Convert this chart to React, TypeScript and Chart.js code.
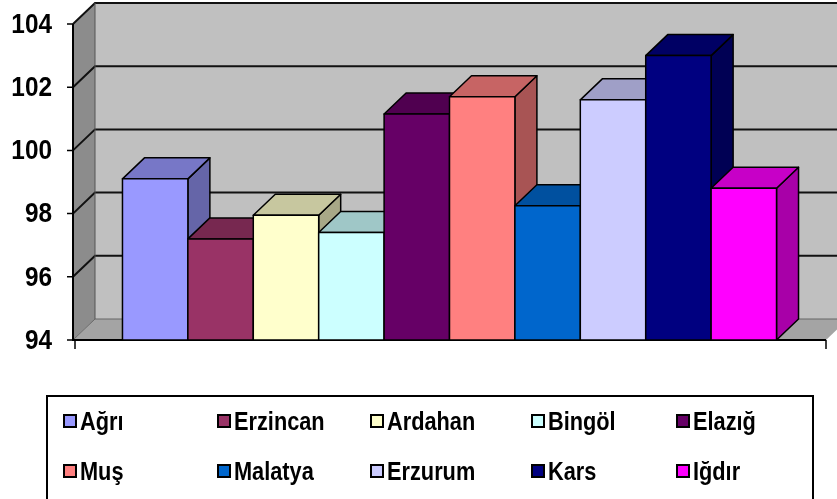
import React, { useEffect, useRef } from "react";
import { Chart, registerables } from "chart.js";

Chart.register(...registerables);

const categories = [""];
const seriesNames = ["Ağrı", "Erzincan", "Ardahan", "Bingöl", "Elazığ", "Muş", "Malatya", "Erzurum", "Kars", "Iğdır"];
const seriesValues = [99.1, 97.2, 97.95, 97.4, 101.15, 101.7, 98.25, 101.6, 103.0, 98.8];
const seriesColors = ["#9999FF", "#993366", "#FFFFCC", "#CCFFFF", "#660066", "#FF8080", "#0066CC", "#CCCCFF", "#000080", "#FF00FF"];
const yTicks = [94, 96, 98, 100, 102, 104];

const DX = 22;
const DY = 21;
const SQ = 0.87;
const FONT = "Liberation Sans, Arial, sans-serif";

function shade(hex: string, f: number) {
  const n = parseInt(hex.slice(1), 16);
  const r = Math.round(((n >> 16) & 255) * f);
  const g = Math.round(((n >> 8) & 255) * f);
  const b = Math.round((n & 255) * f);
  return `rgb(${r},${g},${b})`;
}

function squishText(ctx: CanvasRenderingContext2D, t: string, x: number, y: number, align: CanvasTextAlign) {
  ctx.save();
  ctx.translate(x, y);
  ctx.scale(SQ, 1);
  ctx.textAlign = align;
  ctx.fillText(t, 0, 0);
  ctx.restore();
}

const walls = {
  id: "walls3d",
  beforeDatasetsDraw(chart: any) {
    const ctx: CanvasRenderingContext2D = chart.ctx;
    const { left, right, top, bottom } = chart.chartArea;
    const y = chart.scales.y;
    ctx.save();
    ctx.fillStyle = "#c0c0c0";
    ctx.fillRect(left + DX, top - DY, right - left + 10, bottom - top);
    ctx.fillStyle = "#8c8c8c";
    ctx.beginPath();
    ctx.moveTo(left, top);
    ctx.lineTo(left + DX, top - DY);
    ctx.lineTo(left + DX, bottom - DY);
    ctx.lineTo(left, bottom);
    ctx.closePath();
    ctx.fill();
    ctx.fillStyle = "#a4a4a4";
    ctx.beginPath();
    ctx.moveTo(left, bottom);
    ctx.lineTo(left + DX, bottom - DY);
    ctx.lineTo(right + DX, bottom - DY);
    ctx.lineTo(right, bottom);
    ctx.closePath();
    ctx.fill();
    for (const v of yTicks) {
      const py = y.getPixelForValue(v);
      ctx.beginPath();
      if (v === 94) {
        ctx.strokeStyle = "#666";
        ctx.lineWidth = 1;
      } else {
        ctx.strokeStyle = "#111";
        ctx.lineWidth = 2;
      }
      ctx.moveTo(left, py);
      ctx.lineTo(left + DX, py - DY);
      ctx.lineTo(right + DX + 10, py - DY);
      ctx.stroke();
    }
    ctx.strokeStyle = "#555";
    ctx.lineWidth = 1;
    ctx.beginPath();
    ctx.moveTo(left + DX, top - DY);
    ctx.lineTo(left + DX, bottom - DY);
    ctx.stroke();
    ctx.strokeStyle = "#000";
    ctx.lineWidth = 2;
    ctx.beginPath();
    ctx.moveTo(left, top);
    ctx.lineTo(left, bottom);
    ctx.lineTo(right, bottom);
    ctx.stroke();
    ctx.lineWidth = 1.5;
    ctx.beginPath();
    for (const v of yTicks) {
      const py = y.getPixelForValue(v);
      ctx.moveTo(left - 6, py);
      ctx.lineTo(left, py);
    }
    ctx.moveTo(left + 2, bottom);
    ctx.lineTo(left + 2, bottom + 9);
    ctx.moveTo(right, bottom);
    ctx.lineTo(right, bottom + 9);
    ctx.stroke();
    ctx.fillStyle = "#000";
    ctx.font = `bold 28px ${FONT}`;
    ctx.textBaseline = "middle";
    for (const v of yTicks) {
      squishText(ctx, String(v), left - 21, y.getPixelForValue(v) + 1, "right");
    }
    ctx.restore();
  },
  afterDatasetsDraw(chart: any) {
    const ctx: CanvasRenderingContext2D = chart.ctx;
    const { bottom } = chart.chartArea;
    ctx.save();
    ctx.lineWidth = 1.5;
    ctx.strokeStyle = "#000";
    ctx.lineJoin = "round";
    chart.data.datasets.forEach((ds: any, i: number) => {
      const el = chart.getDatasetMeta(i).data[0];
      const x1 = el.x - el.width / 2;
      const x2 = el.x + el.width / 2;
      const yt = el.y;
      const yb = Math.min(el.base, bottom);
      const c = seriesColors[i];
      ctx.fillStyle = shade(c, 0.66);
      ctx.beginPath();
      ctx.moveTo(x2, yt);
      ctx.lineTo(x2 + DX, yt - DY);
      ctx.lineTo(x2 + DX, yb - DY);
      ctx.lineTo(x2, yb);
      ctx.closePath();
      ctx.fill();
      ctx.stroke();
      ctx.fillStyle = shade(c, 0.78);
      ctx.beginPath();
      ctx.moveTo(x1, yt);
      ctx.lineTo(x1 + DX, yt - DY);
      ctx.lineTo(x2 + DX, yt - DY);
      ctx.lineTo(x2, yt);
      ctx.closePath();
      ctx.fill();
      ctx.stroke();
      ctx.fillStyle = c;
      ctx.fillRect(x1, yt, x2 - x1, yb - yt);
      ctx.strokeRect(x1, yt, x2 - x1, yb - yt);
    });
    ctx.restore();
  },
  afterDraw(chart: any) {
    const ctx: CanvasRenderingContext2D = chart.ctx;
    ctx.save();
    ctx.strokeStyle = "#000";
    ctx.lineWidth = 2;
    ctx.strokeRect(47, 396, 766, 120);
    const colX = [64, 218, 371, 532, 677];
    const rowY = [421, 471];
    ctx.font = `bold 25px ${FONT}`;
    ctx.textBaseline = "alphabetic";
    seriesNames.forEach((name, i) => {
      const bx = colX[i % 5];
      const by = rowY[Math.floor(i / 5)];
      ctx.fillStyle = seriesColors[i];
      ctx.fillRect(bx, by - 6, 12, 12);
      ctx.lineWidth = 2;
      ctx.strokeRect(bx, by - 6, 12, 12);
      ctx.fillStyle = "#000";
      squishText(ctx, name, bx + 16, by + 9, "left");
    });
    ctx.restore();
  },
};

export default function App() {
  const ref = useRef<HTMLCanvasElement>(null);
  useEffect(() => {
    if (!ref.current) return;
    const chart = new Chart(ref.current, {
      type: "bar",
      data: {
        labels: categories,
        datasets: seriesNames.map((name, i) => ({
          label: name,
          data: [seriesValues[i]],
          base: 94,
          backgroundColor: seriesColors[i],
          borderColor: "#000",
          borderWidth: 0,
          categoryPercentage: 0.8686,
          barPercentage: 1,
        })),
      },
      options: {
        animation: false,
        responsive: false,
        maintainAspectRatio: false,
        layout: { padding: { left: 73, right: 11, top: 24, bottom: 159 } },
        plugins: { legend: { display: false }, tooltip: { enabled: false } },
        scales: {
          x: { display: false },
          y: { display: false, min: 94, max: 104, ticks: { stepSize: 2 } },
        },
      },
      plugins: [walls],
    });
    return () => chart.destroy();
  }, []);
  return (
    <div style={{ position: "fixed", left: 0, top: 0, width: 837, height: 499, background: "#fff" }}>
      <canvas ref={ref} width={837} height={499} style={{ width: 837, height: 499 }} />
    </div>
  );
}
